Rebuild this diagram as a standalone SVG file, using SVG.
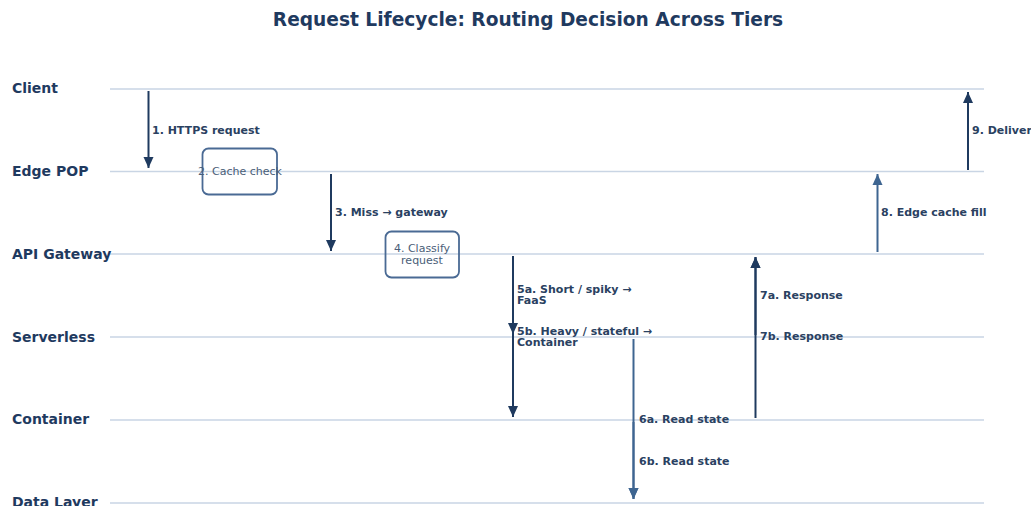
<svg xmlns="http://www.w3.org/2000/svg" width="1031" height="506" viewBox="0 0 1031 506">
  <defs>
    <marker id="headDark" markerUnits="userSpaceOnUse" markerWidth="12" markerHeight="12" viewBox="0 0 12 12" refX="11" refY="6" orient="auto">
      <path d="M0,1 L11,6 L0,11 Z" fill="#1f3a5f"/>
    </marker>
    <marker id="headLight" markerUnits="userSpaceOnUse" markerWidth="12" markerHeight="12" viewBox="0 0 12 12" refX="11" refY="6" orient="auto">
      <path d="M0,1 L11,6 L0,11 Z" fill="#3e6591"/>
    </marker>
  </defs>
  <style>
    .title { font-family: "DejaVu Sans", sans-serif; font-weight: bold; font-size: 18.6px; fill: #1f3a5f; }
    .lane { font-family: "DejaVu Sans", sans-serif; font-weight: bold; font-size: 14px; fill: #1f3a5f; }
    .laneLine { stroke: #c9d5e4; stroke-width: 1.5; }
    .lbl { font-family: "DejaVu Sans", sans-serif; font-weight: bold; font-size: 11px; fill: #2a4161; }
    .boxText { font-family: "DejaVu Sans", sans-serif; font-size: 11px; fill: #4a5e78; text-anchor: middle; }
    .box { fill: none; stroke: #4a6a94; stroke-width: 1.8; }
    .dark { stroke: #1f3a5f; stroke-width: 2; fill: none; marker-end: url(#headDark); }
    .light { stroke: #3e6591; stroke-width: 2; fill: none; marker-end: url(#headLight); }
  </style>
  <rect width="1031" height="506" fill="#ffffff"/>

  <text class="title" x="528" y="26" text-anchor="middle">Request Lifecycle: Routing Decision Across Tiers</text>

  <!-- swimlanes -->
  <g id="lanes">
    <g id="lane-client">
      <line class="laneLine" x1="110" y1="89" x2="984" y2="89"/>
      <text class="lane" x="12" y="93">Client</text>
    </g>
    <g id="lane-edge">
      <line class="laneLine" x1="110" y1="171.5" x2="984" y2="171.5"/>
      <text class="lane" x="12" y="176">Edge POP</text>
    </g>
    <g id="lane-gateway">
      <line class="laneLine" x1="110" y1="254" x2="984" y2="254"/>
      <text class="lane" x="12" y="259">API Gateway</text>
    </g>
    <g id="lane-serverless">
      <line class="laneLine" x1="110" y1="337" x2="984" y2="337"/>
      <text class="lane" x="12" y="342">Serverless</text>
    </g>
    <g id="lane-container">
      <line class="laneLine" x1="110" y1="420" x2="984" y2="420"/>
      <text class="lane" x="12" y="424">Container</text>
    </g>
    <g id="lane-data">
      <line class="laneLine" x1="110" y1="503" x2="984" y2="503"/>
      <text class="lane" x="12" y="507">Data Layer</text>
    </g>
  </g>

  <!-- processing steps -->
  <g id="cache-check">
    <rect class="box" x="202.5" y="148.5" width="74.5" height="46" rx="6"/>
    <text class="boxText" x="240" y="175">2. Cache check</text>
  </g>
  <g id="classify">
    <rect class="box" x="385.5" y="231.5" width="73.5" height="46" rx="6"/>
    <text class="boxText" x="422" y="252">4. Classify</text>
    <text class="boxText" x="422" y="264">request</text>
  </g>

  <!-- messages between tiers -->
  <g id="connectors">
    <line class="dark" x1="148.5" y1="91" x2="148.5" y2="168"/>
    <line class="dark" x1="331" y1="174" x2="331" y2="251"/>
    <line class="dark" x1="513" y1="256" x2="513" y2="334"/>
    <line class="dark" x1="513" y1="256" x2="513" y2="417"/>
    <line class="light" x1="633.5" y1="339" x2="633.5" y2="499"/>
    <line class="light" x1="633.5" y1="422" x2="633.5" y2="499"/>
    <line class="dark" x1="755.5" y1="418" x2="755.5" y2="257"/>
    <line class="dark" x1="755.5" y1="335" x2="755.5" y2="257"/>
    <line class="light" x1="877.5" y1="252" x2="877.5" y2="174"/>
    <line class="dark" x1="968" y1="170" x2="968" y2="92"/>
  </g>

  <g id="connector-labels">
    <text class="lbl" x="152" y="134">1. HTTPS request</text>
    <text class="lbl" x="335" y="216">3. Miss → gateway</text>
    <text class="lbl" x="517" y="293">5a. Short / spiky →</text>
    <text class="lbl" x="517" y="304">FaaS</text>
    <text class="lbl" x="517" y="335">5b. Heavy / stateful →</text>
    <text class="lbl" x="517" y="346">Container</text>
    <text class="lbl" x="639" y="423">6a. Read state</text>
    <text class="lbl" x="639" y="465">6b. Read state</text>
    <text class="lbl" x="760" y="299">7a. Response</text>
    <text class="lbl" x="760" y="340">7b. Response</text>
    <text class="lbl" x="881" y="216">8. Edge cache fill</text>
    <text class="lbl" x="972" y="134">9. Deliver</text>
  </g>
</svg>
